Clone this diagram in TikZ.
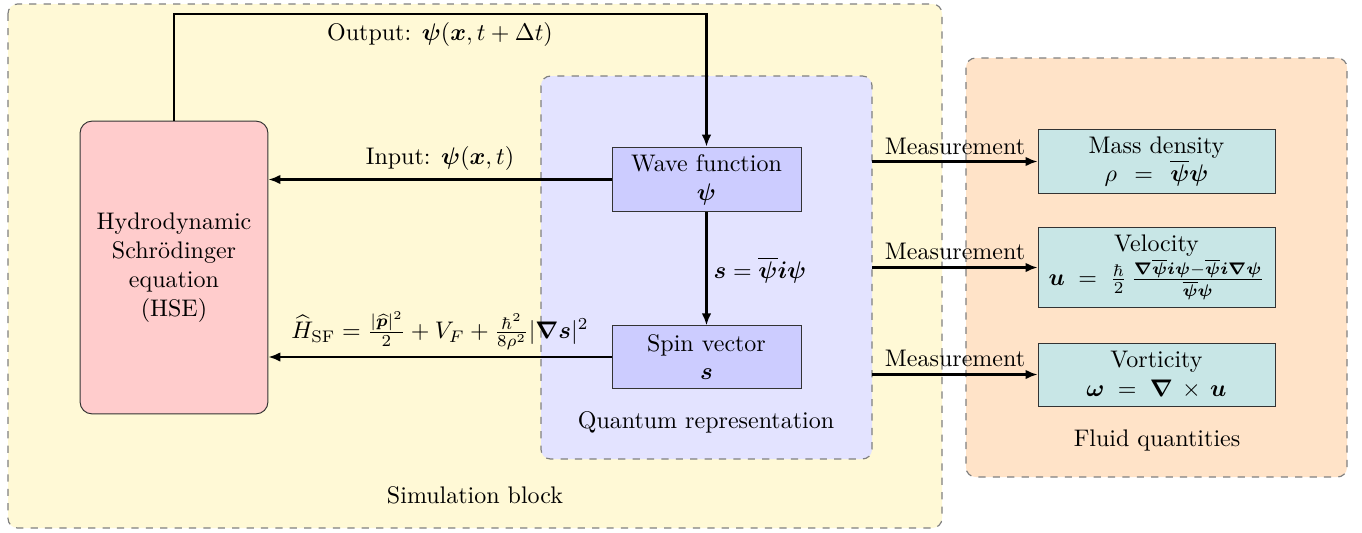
\documentclass[tikz,border=0pt]{standalone}
\usepackage{amsmath}
\usepackage{bm}
\usetikzlibrary{arrows.meta}
\definecolor{simbg}{HTML}{FFF9D6}
\definecolor{quabg}{HTML}{E3E3FF}
\definecolor{flubg}{HTML}{FFE3C8}
\definecolor{hsefill}{HTML}{FFCCCC}
\definecolor{qfill}{HTML}{CCCCFF}
\definecolor{ffill}{HTML}{C8E6E6}
\tikzset{
  region/.style={draw=gray, dashed, rounded corners=4pt, line width=0.5pt},
  qbox/.style={draw=black!80, fill=qfill, align=center, minimum width=78.75pt, minimum height=27pt, inner sep=1pt, line width=0.4pt},
  fbox/.style={draw=black!80, fill=ffill, align=center, minimum width=98.75pt, inner sep=1pt, line width=0.4pt},
  conn/.style={-{Latex[length=5pt,width=4pt]}, line width=0.9pt},
  lbl/.style={inner sep=1pt},
}
\begin{document}
\begin{tikzpicture}[x=0.4167pt, y=-0.4167pt]
\useasboundingbox (0,0) rectangle (1362,532);
% regions
\draw[region, fill=simbg] (8,4) rectangle (942,528);
\draw[region, fill=quabg] (541,76) rectangle (872,459);
\draw[region, fill=flubg] (966,58) rectangle (1347,477);
\node[lbl] (simlbl) at (475,495) {Simulation block};
\node[lbl] (qlbl) at (706,422) {Quantum representation};
\node[lbl] (flbl) at (1157,440) {Fluid quantities};
% nodes
\node[draw=black!80, fill=hsefill, rounded corners=5pt, align=center, minimum width=78.3pt, minimum height=122pt, line width=0.4pt] (hse) at (174,267.5) {Hydrodynamic\\Schr\"odinger\\equation\\(HSE)};
\node[qbox] (wave) at (706.5,179.5) {Wave function\\$\bm{\psi}$};
\node[qbox, minimum height=26pt] (spin) at (706.5,357) {Spin vector\\$\bm{s}$};
\node[fbox, minimum height=27pt] (mass) at (1156.5,161.5) {Mass density\\$\rho\;\,=\;\,\overline{\bm\psi}\bm\psi$};
\node[fbox, minimum height=33pt] (vel) at (1156.5,267.5) {Velocity\\$\bm u\;=\;\frac{\hbar}{2}\,\frac{\bm\nabla\overline{\bm\psi}\bm i\bm\psi-\overline{\bm\psi}\bm i\bm\nabla\bm\psi}{\overline{\bm\psi}\bm\psi}$};
\node[fbox, minimum height=26.25pt] (vort) at (1156.5,374.5) {Vorticity\\$\bm\omega\;=\;\bm\nabla\,\times\,\bm u$};
% connectors
\coordinate (top) at (706.5,14);
\draw[conn] (hse.north) |- (top) -- (wave.north);
\node[lbl] (outlbl) at (440,34) {Output: $\bm\psi(\bm x, t+\Delta t)$};
\draw[conn] (wave.west) -- (hse.east |- wave.west);
\node[lbl] (inlbl) at (440,158) {Input: $\bm\psi(\bm x, t)$};
\draw[conn] (spin.west) -- (hse.east |- spin.west);
\node[lbl] (hlbl) at (440,331) {$\widehat{H}_{\mathrm{SF}}=\frac{|\widehat{\bm p}|^2}{2}+V_F+\frac{\hbar^2}{8\rho^2}|\bm\nabla\bm s|^2$};
\draw[conn] (wave.south) -- (spin.north);
\node[lbl] (slbl) at (760,270) {$\bm s=\overline{\bm\psi}\bm i\bm\psi$};
\coordinate (qe) at (872,0);
\draw[conn] (qe |- mass.west) -- (mass.west);
\draw[conn] (qe |- vel.west) -- (vel.west);
\draw[conn] (qe |- vort.west) -- (vort.west);
\node[lbl] (m1) at (955,146) {Measurement};
\node[lbl] (m2) at (955,251) {Measurement};
\node[lbl] (m3) at (955,358) {Measurement};
\end{tikzpicture}
\end{document}
